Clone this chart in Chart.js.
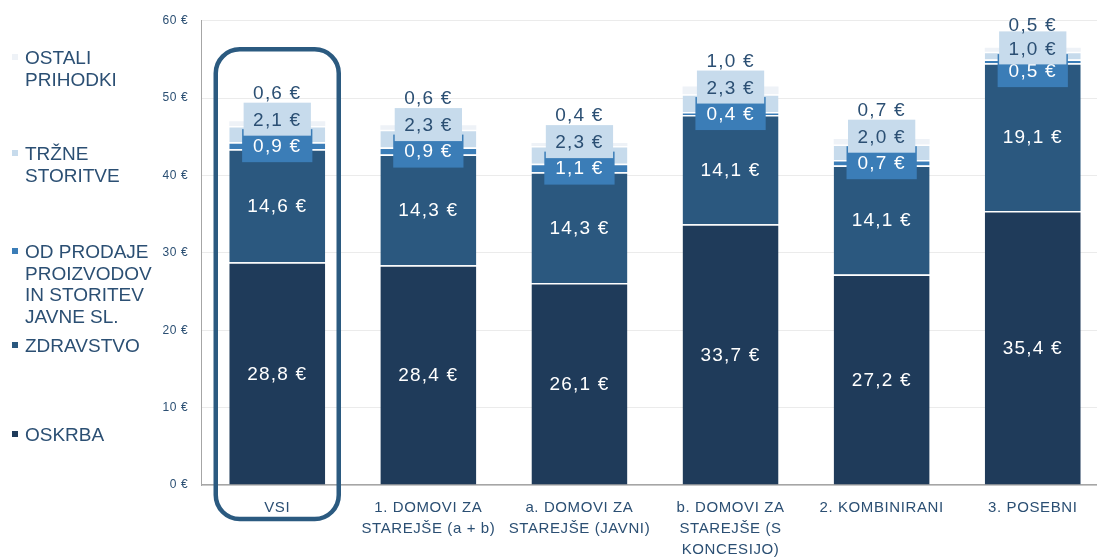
<!DOCTYPE html>
<html><head><meta charset="utf-8">
<script src="https://cdn.jsdelivr.net/npm/chart.js@4.4.1/dist/chart.umd.min.js"></script>
<style>
html,body{margin:0;padding:0;width:1097px;height:559px;overflow:hidden;background:#fff;}
#wrap{position:absolute;left:0;top:0;width:1110px;height:559px;}
.lg{position:absolute;left:0;font-family:"Liberation Sans",Arial,sans-serif;font-size:19px;line-height:21.7px;color:#2b4f73;}
.sq{position:absolute;left:12px;width:6px;height:6px;}
.tx{position:absolute;left:25px;white-space:nowrap;}
</style></head><body>
<div id="wrap"><canvas id="c" width="1110" height="559"></canvas></div>
<div id="legend"></div>
<script>
// ---- data ----
const categories = [["VSI"], ["1. DOMOVI ZA", "STAREJŠE (a + b)"], ["a. DOMOVI ZA", "STAREJŠE (JAVNI)"], ["b. DOMOVI ZA", "STAREJŠE (S", "KONCESIJO)"], ["2. KOMBINIRANI"], ["3. POSEBNI"]];
const oskrba    = [28.8, 28.4, 26.1, 33.7, 27.2, 35.4];
const zdravstvo = [14.6, 14.3, 14.3, 14.1, 14.1, 19.1];
const odProdaje = [0.9, 0.9, 1.1, 0.4, 0.7, 0.5];
const trzne     = [2.1, 2.3, 2.3, 2.3, 2.0, 1.0];
const ostali    = [0.6, 0.6, 0.4, 1.0, 0.7, 0.5];
const seriesNames = ["OSKRBA", "ZDRAVSTVO", "OD PRODAJE PROIZVODOV IN STORITEV JAVNE SL.", "TRŽNE STORITVE", "OSTALI PRIHODKI"];
const legendLines = [["OSKRBA"], ["ZDRAVSTVO"], ["OD PRODAJE", "PROIZVODOV", "IN STORITEV", "JAVNE SL."], ["TRŽNE", "STORITVE"], ["OSTALI", "PRIHODKI"]];
const yMin = 0, yMax = 60, yStep = 10;

// ---- styles ----
const colors = ['#1f3b5a', '#2b587f', '#3b7db7', '#c7dbec', '#eef2f7'];
const textDark = '#2b4f73';
const FONT = '"Liberation Sans", Arial, sans-serif';
const legendFirstLineCenter = [435, 345.5, 251.7, 153.5, 57.5];

// legend (HTML)
const lg = document.getElementById('legend');
legendLines.forEach((lines, i) => {
  const c = legendFirstLineCenter[i];
  const sq = document.createElement('div');
  sq.className = 'sq'; sq.style.background = colors[i]; sq.style.top = (c - 4) + 'px';
  lg.appendChild(sq);
  const t = document.createElement('div');
  t.className = 'lg tx'; t.style.top = (c - 10.65) + 'px';
  t.innerHTML = lines.join('<br>');
  lg.appendChild(t);
});

const fmt = v => v.toFixed(1).replace('.', ',') + ' €';

const spacingPlugin = {
  id: 'spacing',
  beforeDraw(chart) { chart.ctx.letterSpacing = '0.6px'; }
};

const labelPlugin = {
  id: 'labels',
  afterDatasetsDraw(chart) {
    const ctx = chart.ctx;
    const top = chart.chartArea.top;
    ctx.save();
    ctx.font = '19px ' + FONT;
    ctx.letterSpacing = '1.2px';
    ctx.textAlign = 'center';
    ctx.textBaseline = 'middle';
    for (let i = 0; i < categories.length; i++) {
      const x = chart.getDatasetMeta(0).data[i].x;
      for (let d = 0; d < 2; d++) {
        const el = chart.getDatasetMeta(d).data[i];
        ctx.fillStyle = '#ffffff';
        ctx.fillText(fmt(chart.data.datasets[d].data[i]), x, (el.y + el.base) / 2 + 1);
      }
      const e2 = chart.getDatasetMeta(2).data[i];
      let c2 = (e2.y + e2.base) / 2, s = 26.5;
      const minTop = top + 4.5;
      if (c2 - 2 * s < minTop) { s = 22.7; c2 = Math.max(c2, minTop + 2 * s); }
      const c3 = c2 - s, c4 = c3 - s;
      // OD PRODAJE box
      let t = fmt(chart.data.datasets[2].data[i]);
      let w = ctx.measureText(t).width + 22;
      ctx.fillStyle = colors[2];
      ctx.fillRect(x - w / 2, c2 - 16.5, w, 33);
      ctx.fillStyle = '#ffffff';
      ctx.fillText(t, x, c2 + 1);
      // TRŽNE box
      t = fmt(chart.data.datasets[3].data[i]);
      w = ctx.measureText(t).width + 19;
      ctx.fillStyle = colors[3];
      ctx.fillRect(x - w / 2, c3 - 16.5, w, 33);
      ctx.fillStyle = textDark;
      ctx.fillText(t, x, c3 + 1.5);
      // OSTALI
      t = fmt(chart.data.datasets[4].data[i]);
      ctx.fillText(t, x, c4 + 1);
    }
    ctx.restore();
  }
};

const highlightPlugin = {
  id: 'highlight',
  afterDraw(chart) {
    const ctx = chart.ctx;
    const el = chart.getDatasetMeta(0).data[0];
    const x0 = el.x - 61.5, x1 = el.x + 61.5;
    const y0 = chart.scales.y.getPixelForValue(56.3);
    const y1 = chart.chartArea.bottom + 34;
    const r = 24;
    ctx.save();
    ctx.strokeStyle = '#2b5a80';
    ctx.lineWidth = 4.5;
    ctx.beginPath();
    ctx.roundRect(x0, y0, x1 - x0, y1 - y0, r);
    ctx.stroke();
    ctx.restore();
  }
};

const series = [oskrba, zdravstvo, odProdaje, trzne, ostali];
const datasets = series.map((d, i) => ({
  label: seriesNames[i],
  data: d,
  backgroundColor: colors[i],
  borderColor: '#ffffff',
  borderWidth: i < 4 ? { top: 1.5, bottom: 0, left: 0, right: 0 } : 0,
  borderSkipped: false,
  categoryPercentage: 1,
  barPercentage: 0.635,
  stack: 's'
}));

new Chart(document.getElementById('c'), {
  type: 'bar',
  data: { labels: categories, datasets },
  options: {
    responsive: false,
    animation: false,
    devicePixelRatio: 1,
    layout: { padding: { left: 0, right: 1.7, top: 17, bottom: 0 } },
    plugins: { legend: { display: false }, tooltip: { enabled: false } },
    scales: {
      x: {
        stacked: true,
        grid: { display: false, drawTicks: false },
        border: { display: true, color: '#a6a6a6', width: 1.5 },
        ticks: { color: textDark, font: { family: FONT, size: 15, lineHeight: 1.37 }, padding: 13, maxRotation: 0, autoSkip: false },
        afterFit(s) { s.height = 74; }
      },
      y: {
        stacked: true, min: yMin, max: yMax,
        ticks: { stepSize: yStep, callback: v => v + ' €', color: textDark, font: { family: FONT, size: 12 }, padding: 13.5 },
        grid: { color: '#ebebeb', drawTicks: false },
        border: { display: true, color: '#a6a6a6', width: 1 },
        afterFit(s) { s.width = 201.7; }
      }
    }
  },
  plugins: [spacingPlugin, labelPlugin, highlightPlugin]
});
</script>
</body></html>
